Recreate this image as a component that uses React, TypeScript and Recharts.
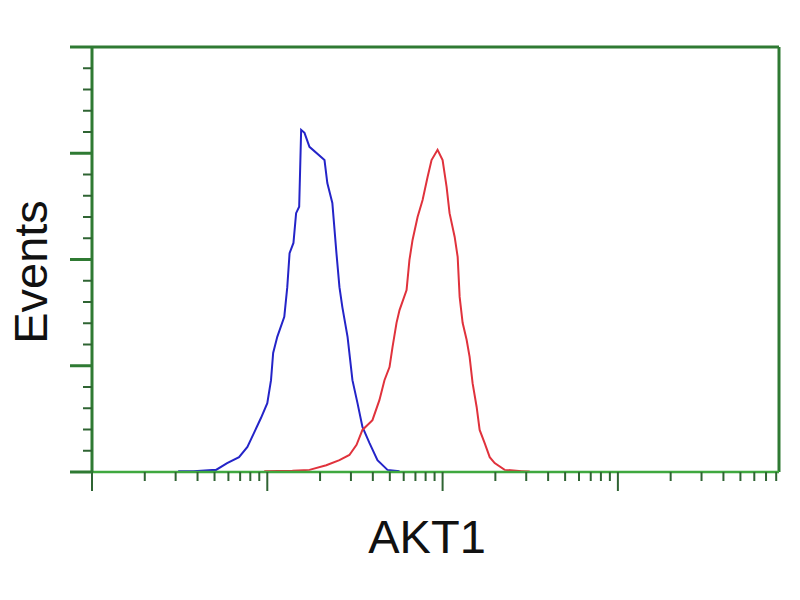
import { LineChart, Line, XAxis, YAxis } from "recharts"

// fluorescence intensity (log axis) and event counts
const blueX = [3.1, 3.8, 4.85, 5.1, 5.9, 6.9, 7.7, 8.4, 9.2, 10, 10.5, 10.8, 11.4, 12.5, 13.0, 13.4, 14.1, 14.6, 15.2, 15.6, 16.3, 17.4, 21.2, 22.0, 23.5, 24.8, 25.8, 26.8, 28.7, 30.6, 32.7, 34.9, 38.3, 42.5, 48.5, 56.8]
const blueY = [0.2, 0.2, 0.5, 0.5, 2.1, 3.5, 5.9, 9.2, 12.7, 16.2, 21.6, 28, 31.8, 36.5, 43.5, 51.5, 53.9, 60.9, 62.4, 80.5, 79.8, 76.5, 73.4, 68, 63.3, 51.5, 43.5, 38.8, 31.8, 21.6, 16.2, 10.6, 6.8, 2.8, 0.5, 0.2]

const redX = [9.6, 13.9, 17.4, 21.7, 25.8, 29.4, 32.3, 34.9, 39.8, 43.6, 46.6, 49.8, 51.8, 54.6, 56.8, 62.3, 64.7, 67.4, 72.0, 76.9, 82.1, 86.5, 93.6, 100, 105.4, 109.6, 117.2, 121.9, 125.1, 130.1, 137.1, 142.6, 148.3, 156.4, 162.7, 173.8, 185.7, 198.2, 226, 283, 314]
const redY = [0.2, 0.3, 0.5, 1.6, 2.8, 4.0, 6.4, 9.9, 12.2, 16.9, 21.6, 24.7, 29.4, 35.1, 38.1, 42.8, 49.9, 54.6, 60, 64, 69.4, 73.4, 75.8, 73.4, 67.1, 60.9, 55.3, 50.6, 41.2, 35.1, 31.1, 27.1, 20.9, 15.3, 9.9, 6.8, 3.5, 2.1, 0.5, 0.2, 0.1]

const xMax = 8300
const xDecades = [1, 10, 100, 1000]
const yMax = 100
const yMajorStep = 25
const yMinorStep = 5

const xTicks: number[] = []
xDecades.forEach((d) => {
  for (let k = 1; k <= 9; k++) {
    if (d * k <= xMax) xTicks.push(d * k)
  }
})
const yTicks: number[] = []
for (let v = 0; v <= yMax; v += yMinorStep) yTicks.push(v)

const blueData = blueX.map((x, i) => ({ x, y: blueY[i] }))
const redData = redX.map((x, i) => ({ x, y: redY[i] }))

const frameGreen = "#2f7a33"
const bottomGreen = "#3fa83f"
const tickGreen = "#2f6433"
const font = "'Liberation Sans', Arial, sans-serif"

function XTick(props: any) {
  const { x, y, payload } = props
  const major = xDecades.includes(payload.value)
  return <line x1={x} y1={y} x2={x} y2={y + (major ? 19 : 9)} stroke={tickGreen} strokeWidth={2} />
}

function YTick(props: any) {
  const { x, y, payload } = props
  const major = payload.value % yMajorStep === 0
  return <line x1={x} y1={y} x2={x - (major ? 22 : 9)} y2={y} stroke={major ? frameGreen : tickGreen} strokeWidth={major ? 3 : 2} />
}

export default function App() {
  return (
    <div style={{ position: "absolute", left: 0, top: 0, width: 800, height: 600, background: "#fff" }}>
      <LineChart width={800} height={600} margin={{ top: 46, right: 20, bottom: 108, left: 70 }}>
        <XAxis
          xAxisId="top"
          orientation="top"
          dataKey="x"
          type="number"
          scale="log"
          domain={[1, xMax]}
          allowDataOverflow
          height={1}
          tick={false}
          tickLine={false}
          axisLine={{ stroke: frameGreen, strokeWidth: 3 }}
        />
        <YAxis
          yAxisId="right"
          orientation="right"
          type="number"
          domain={[0, yMax]}
          width={1}
          tick={false}
          tickLine={false}
          axisLine={{ stroke: frameGreen, strokeWidth: 3 }}
        />
        <XAxis
          dataKey="x"
          type="number"
          scale="log"
          domain={[1, xMax]}
          allowDataOverflow
          ticks={xTicks}
          interval={0}
          height={20}
          tickSize={0}
          tickMargin={0}
          tick={<XTick />}
          axisLine={{ stroke: bottomGreen, strokeWidth: 2.5 }}
          label={{
            content: () => (
              <text x={427} y={553} textAnchor="middle" fontFamily={font} fontSize={47} fill="#111">
                AKT1
              </text>
            ),
          }}
        />
        <YAxis
          type="number"
          domain={[0, yMax]}
          ticks={yTicks}
          interval={0}
          width={22}
          tickSize={0}
          tickMargin={0}
          tick={<YTick />}
          axisLine={{ stroke: frameGreen, strokeWidth: 3 }}
          label={{
            content: () => (
              <text x={47} y={272} transform="rotate(-90 47 272)" textAnchor="middle" fontFamily={font} fontSize={47} fill="#111">
                Events
              </text>
            ),
          }}
        />
        <Line data={blueData} dataKey="y" type="linear" stroke="#2424c8" strokeWidth={2} dot={false} isAnimationActive={false} />
        <Line data={redData} dataKey="y" type="linear" stroke="#e0323c" strokeWidth={2} dot={false} isAnimationActive={false} />
      </LineChart>
    </div>
  )
}
